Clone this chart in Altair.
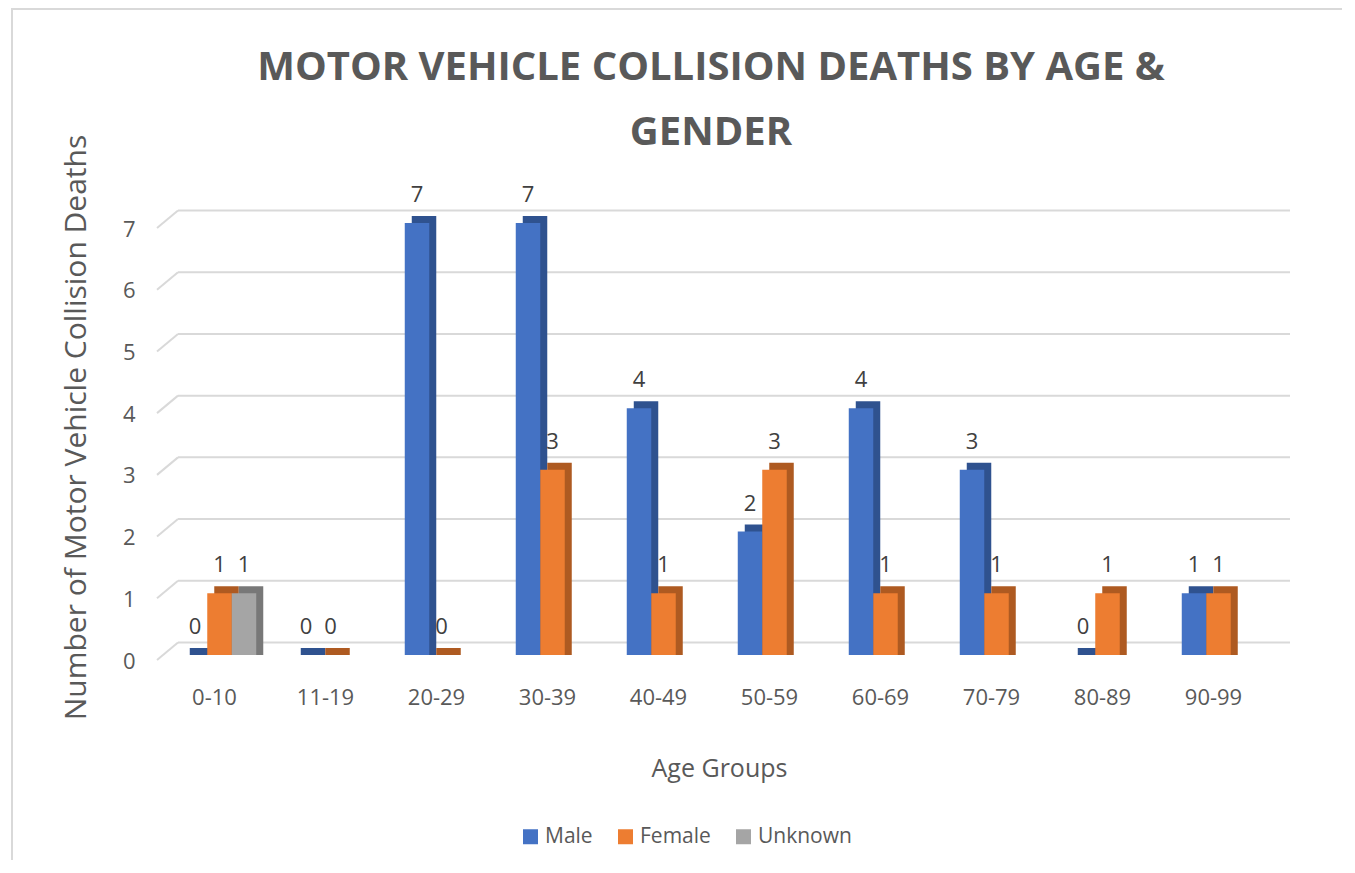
import altair as alt
import pandas as pd

age_groups = ["0-10", "11-19", "20-29", "30-39", "40-49", "50-59", "60-69", "70-79", "80-89", "90-99"]
male = [0, 0, 7, 7, 4, 2, 4, 3, 0, 1]
female = [1, 0, 0, 3, 1, 3, 1, 1, 1, 1]
unknown = [1, None, None, None, None, None, None, None, None, None]
genders = ["Male", "Female", "Unknown"]
y_ticks = [0, 1, 2, 3, 4, 5, 6, 7]

rows = []
for i, g in enumerate(age_groups):
    for name, series in zip(genders, [male, female, unknown]):
        if series[i] is not None:
            rows.append({"age": g, "gender": name, "value": series[i]})
df = pd.DataFrame(rows)
ticks_df = pd.DataFrame({"v": y_ticks})
frame_df = pd.DataFrame({"a": [0]})

FONT = "Open Sans"
TXT = "#595959"
front_colors = ["#4472C4", "#ED7D31", "#A5A5A5"]
side_colors = ["#2F528F", "#AE5A21", "#787878"]
DEPTH_UNITS = 7 / 61.7  # 7px of 3D depth expressed in axis units

yscale = alt.Scale(domain=[0, 7], nice=False)
yaxis = alt.Axis(values=y_ticks, grid=False, domain=False, ticks=False,
                 labelFont=FONT, labelFontSize=22, labelColor=TXT, labelPadding=29,
                 labelOffset=6,
                 title="Number of Motor Vehicle Collision Deaths",
                 titleFont=FONT, titleFontSize=30, titleFontWeight="normal", titleColor=TXT,
                 titleX=-88, titleY=204, titleAngle=-90, titleAlign="center", titleBaseline="middle")
xscale = alt.Scale(paddingInner=0.338, paddingOuter=0.169)
xaxis = alt.Axis(grid=False, domain=False, ticks=False, labelAngle=0,
                 labelFont=FONT, labelFontSize=22, labelColor=TXT, labelPadding=32,
                 labelBaseline="top", labelOffset=-5,
                 title="Age Groups", titleFont=FONT, titleFontSize=25,
                 titleFontWeight="normal", titleColor=TXT,
                 titleY=113, titleBaseline="middle")
X = alt.X("age:N", sort=age_groups, scale=xscale, axis=xaxis)
XO = alt.XOffset("gender:N", sort=genders, scale=alt.Scale(domain=genders))
XO_side = alt.XOffset("gender:N", sort=genders, scale=alt.Scale(domain=genders, range=[7, 80.5]))
Y = alt.Y("value:Q", scale=yscale, axis=yaxis)

border = alt.Chart(frame_df).mark_rect(fillOpacity=0, stroke="#d9d9d9", strokeWidth=2).encode(
    x=alt.value(-152), x2=alt.value(1180), y=alt.value(-214), y2=alt.value(660))

grid_h = alt.Chart(ticks_df).mark_rule(color="#d9d9d9", strokeWidth=2, yOffset=-12.5).encode(
    x=alt.value(14), x2=alt.value(1126),
    y=alt.Y("v:Q", scale=yscale, axis=yaxis))

grid_s = alt.Chart(ticks_df).mark_rule(color="#d9d9d9", strokeWidth=2, yOffset=5, y2Offset=-12.5).encode(
    x=alt.value(-7), x2=alt.value(14),
    y=alt.Y("v:Q", scale=yscale, axis=yaxis), y2="v:Q")

side = alt.Chart(df).transform_calculate(top=f"datum.value + {DEPTH_UNITS}").mark_bar().encode(
    x=X, xOffset=XO_side,
    y=alt.Y("top:Q", scale=yscale, axis=yaxis),
    color=alt.Color("gender:N", scale=alt.Scale(domain=genders, range=side_colors), legend=None))

front = alt.Chart(df).mark_bar().encode(
    x=X, xOffset=XO, y=Y,
    color=alt.Color("gender:N", scale=alt.Scale(domain=genders, range=front_colors),
                    legend=alt.Legend(title=None, orient="none", direction="horizontal",
                                      legendX=356, legendY=603, symbolType="square",
                                      symbolSize=225, symbolStrokeWidth=0,
                                      labelFont=FONT, labelFontSize=21, labelColor=TXT,
                                      labelOffset=4, columnPadding=22)))

labels = alt.Chart(df).mark_text(font=FONT, fontSize=22, color="#404040", dy=-21,
                                 baseline="alphabetic").encode(
    x=X, xOffset=XO, y=Y, text="value:Q")

chart = alt.layer(border, grid_h, grid_s, side, front, labels).resolve_scale(
    color="independent", xOffset="independent"
).properties(
    width=1110, height=432,
    padding={"left": 156, "top": 215, "right": 68, "bottom": 205},
    autosize=alt.AutoSizeParams(type="none"),
    title=alt.TitleParams(["MOTOR VEHICLE COLLISION DEATHS BY AGE &", "GENDER"],
                          font=FONT, fontSize=40, fontWeight="bold", color=TXT,
                          anchor="middle", lineHeight=65, offset=0, baseline="bottom",
                          dy=185, dx=-8)
).configure_view(stroke=None)

chart.save("out.html", embed_options={"renderer": "svg", "actions": False})
